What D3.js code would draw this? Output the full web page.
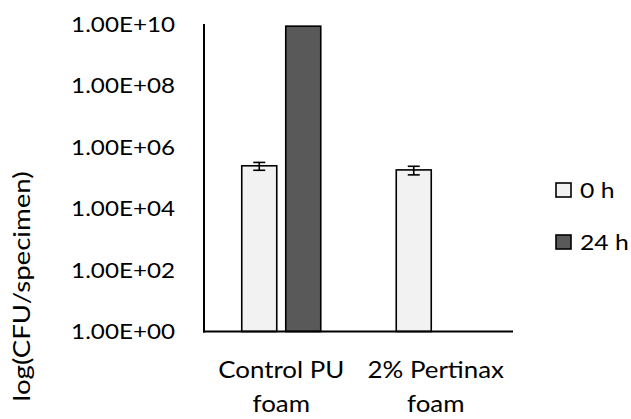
<!DOCTYPE html>
<html><head><meta charset="utf-8">
<script src="https://cdn.jsdelivr.net/npm/d3@7"></script>
<style>
html,body{margin:0;padding:0;background:#fff;}
text{font-family:Lato, "Open Sans", sans-serif;fill:#000;}
</style></head>
<body>
<svg id="chart" width="631" height="419"></svg>
<script>
// ---- data ----
const categories = ["Control PU foam", "2% Pertinax foam"];
const categoryLines = [["Control PU", "foam"], ["2% Pertinax", "foam"]];
const seriesNames = ["0 h", "24 h"];
const values0h = [2.45e5, 1.8e5];
const values24h = [8.5e9, null];
const errors0h = [7.0e4, 5.6e4];
const errors24h = [null, null];
const tickValues = [1e0, 1e2, 1e4, 1e6, 1e8, 1e10];
const tickLabels = ["1.00E+00", "1.00E+02", "1.00E+04", "1.00E+06", "1.00E+08", "1.00E+10"];
const yTitle = "log(CFU/specimen)";

const fills = ["#f2f2f2", "#595959"];

const svg = d3.select("#chart");
svg.append("rect").attr("width", 631).attr("height", 419).attr("fill", "#fff");

const plotLeft = 204, plotRight = 513, plotTop = 24, plotBottom = 331.5;

const y = d3.scaleLog().domain([1, 1e10]).range([plotBottom, plotTop]);
const x0 = d3.scaleBand().domain(categories).range([plotLeft, plotRight]).padding(0);
const bw = x0.bandwidth();
const x1 = d3.scaleBand().domain(seriesNames)
  .range([bw / 2 - 39.5, bw / 2 + 39.5]).paddingInner(0.2045).paddingOuter(0);

function stretch(sel, k) {
  sel.each(function () {
    const w = this.getComputedTextLength();
    d3.select(this).attr("textLength", w * k).attr("lengthAdjust", "spacingAndGlyphs");
  });
}

// rows
const rows = [];
categories.forEach((c, i) => {
  rows.push({cat: c, s: seriesNames[0], v: values0h[i], e: errors0h[i], fill: fills[0]});
  rows.push({cat: c, s: seriesNames[1], v: values24h[i], e: errors24h[i], fill: fills[1]});
});
const present = rows.filter(d => d.v != null);

// bars
svg.append("g").selectAll("rect").data(present).join("rect")
  .attr("x", d => x0(d.cat) + x1(d.s))
  .attr("width", x1.bandwidth())
  .attr("y", d => y(d.v))
  .attr("height", d => y(1) - y(d.v))
  .attr("fill", d => d.fill)
  .attr("stroke", "#000")
  .attr("stroke-width", 1.6);

// error bars
const eb = svg.append("g").attr("stroke", "#000").attr("stroke-width", 1.6);
present.filter(d => d.e != null).forEach(d => {
  const cx = x0(d.cat) + x1(d.s) + x1.bandwidth() / 2;
  const yt = y(d.v + d.e), yb = y(d.v - d.e);
  eb.append("line").attr("x1", cx).attr("x2", cx).attr("y1", yt).attr("y2", yb);
  eb.append("line").attr("x1", cx - 6).attr("x2", cx + 6).attr("y1", yt).attr("y2", yt);
  eb.append("line").attr("x1", cx - 6).attr("x2", cx + 6).attr("y1", yb).attr("y2", yb);
});

// y axis labels
const yAxis = d3.axisLeft(y).tickValues(tickValues)
  .tickFormat(d => tickLabels[tickValues.indexOf(d)]).tickSize(0).tickPadding(29);
const gy = svg.append("g").attr("transform", `translate(${plotLeft},0)`).call(yAxis);
gy.select(".domain").remove();
gy.selectAll("text").style("font-family", "Lato").style("font-size", "22px").attr("fill", "#000")
  .attr("dy", "0.33em");
stretch(gy.selectAll("text"), 1.1);

// axis lines
svg.append("line").attr("x1", plotLeft).attr("x2", plotLeft).attr("y1", plotTop).attr("y2", plotBottom + 1)
  .attr("stroke", "#000").attr("stroke-width", 2);
svg.append("line").attr("x1", plotLeft - 1).attr("x2", plotRight).attr("y1", plotBottom).attr("y2", plotBottom)
  .attr("stroke", "#000").attr("stroke-width", 2);

// category labels
const xl = svg.append("g");
categories.forEach((c, i) => {
  const cx = x0(c) + bw / 2;
  categoryLines[i].forEach((ln, j) => {
    const t = xl.append("text").attr("x", cx).attr("y", 378 + j * 34)
      .attr("text-anchor", "middle").style("font-size", "22.5px").text(ln);
    stretch(t, 1.15);
  });
});

// y title
const yt = svg.append("text").attr("transform", `translate(30,${286.5}) rotate(-90)`)
  .attr("text-anchor", "middle").style("font-size", "24px").text(yTitle);
stretch(yt, 1.15);

// legend
const legendY = [190, 242];
seriesNames.forEach((s, i) => {
  const g = svg.append("g").attr("transform", `translate(556,${legendY[i]})`);
  g.append("rect").attr("x", 0).attr("y", -7).attr("width", 15).attr("height", 14)
    .attr("fill", fills[i]).attr("stroke", "#000").attr("stroke-width", 1.6);
  const t = g.append("text").attr("x", 24).attr("y", 0).attr("dy", "0.35em")
    .style("font-size", "21.5px").text(s);
  stretch(t, 1.15);
});
</script>
</body></html>
